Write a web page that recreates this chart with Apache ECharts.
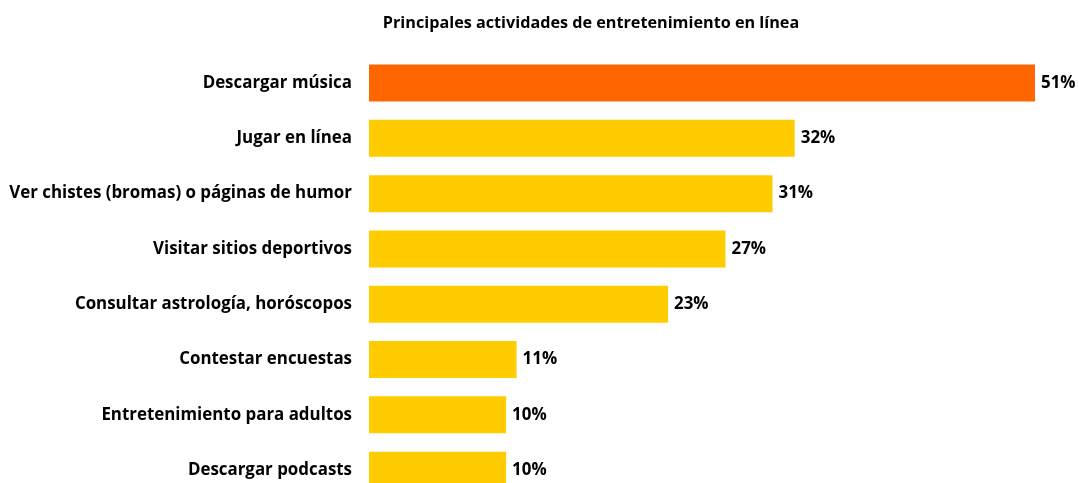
<!DOCTYPE html>
<html>
<head>
<meta charset="utf-8">
<script src="https://cdn.jsdelivr.net/npm/echarts@6/dist/echarts.min.js"></script>
<style>
  html, body { margin: 0; padding: 0; background: #fff; }
  #chart { width: 1079px; height: 483px; }
</style>
</head>
<body>
<div id="chart"></div>
<script>
var categories = [
  "Descargar música",
  "Jugar en línea",
  "Ver chistes (bromas) o páginas de humor",
  "Visitar sitios deportivos",
  "Consultar astrología, horóscopos",
  "Contestar encuestas",
  "Entretenimiento para adultos",
  "Descargar podcasts"
];
// longitudes
var values = [51, 32.6, 30.9, 27.3, 22.9, 11.3, 10.5, 10.5];
// etiquetas tal como aparecen
var labels = ["51%", "32%", "31%", "27%", "23%", "11%", "10%", "10%"];
var colors = ["#ff6600", "#ffcc00", "#ffcc00", "#ffcc00", "#ffcc00", "#ffcc00", "#ffcc00", "#ffcc00"];

var font = "'Open Sans', sans-serif";
var chart = echarts.init(document.getElementById("chart"));
chart.setOption({
  animation: false,
  title: {
    text: "Principales actividades de entretenimiento en línea",
    left: 586,
    textAlign: "center",
    top: 10,
    textStyle: { fontFamily: font, fontSize: 16.2, fontWeight: "bold", color: "#000" }
  },
  grid: { left: 369, right: 44, top: 55.4, height: 442.4, containLabel: false, outerBoundsMode: "none" },
  xAxis: {
    type: "value",
    min: 0,
    max: 51,
    show: false
  },
  yAxis: {
    type: "category",
    data: categories,
    inverse: true,
    axisLine: { show: false },
    axisTick: { show: false },
    axisLabel: {
      margin: 17,
      color: "#000",
      fontFamily: font,
      fontSize: 16.9,
      fontWeight: "bold"
    }
  },
  series: [{
    type: "bar",
    data: values.map(function (v, i) {
      return { value: v, itemStyle: { color: colors[i] } };
    }),
    barWidth: 37,
    label: {
      show: true,
      position: "right",
      distance: 6,
      color: "#000",
      fontFamily: font,
      fontSize: 16.9,
      fontWeight: "bold",
      formatter: function (p) { return labels[p.dataIndex]; }
    }
  }]
});
</script>
</body>
</html>
